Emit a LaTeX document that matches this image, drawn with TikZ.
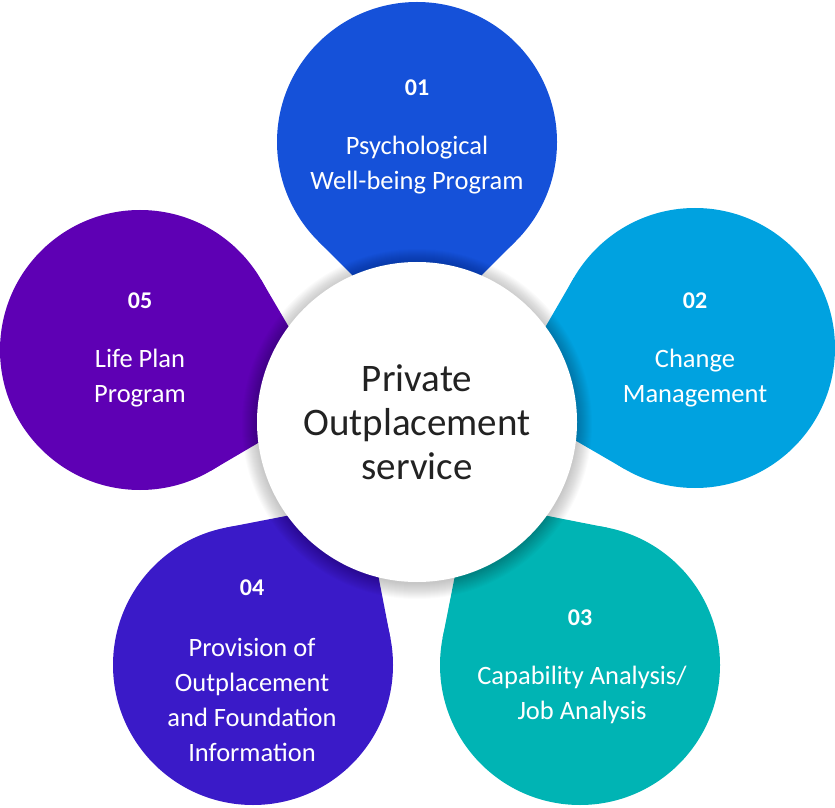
\documentclass[tikz,border=0pt]{standalone}
\usepackage{fontspec}
\setmainfont{Carlito}
\usetikzlibrary{calc}
\definecolor{c1}{HTML}{1551D9}
\definecolor{c2}{HTML}{00A2E0}
\definecolor{c3}{HTML}{00B4B4}
\definecolor{c4}{HTML}{3A1AC8}
\definecolor{c5}{HTML}{5E00B4}
\definecolor{ctext}{HTML}{222222}
\begin{document}
\begin{tikzpicture}[x=1pt,y=1pt,
  numtext/.style={text=white, font=\bfseries\fontsize{24}{28}\selectfont},
  petaltext/.style={text=white, align=center, font=\fontsize{26.5}{35}\selectfont},
  centertext/.style={text=ctext, align=center, font=\fontsize{39}{44}\selectfont},
  hub/.style={circle, fill=white, minimum size=320pt, inner sep=0pt}]
\useasboundingbox (0,0) rectangle (835,807);
\coordinate (m) at (417,385);
\coordinate (p1) at (417,665);
\coordinate (p2) at (695,459);
\coordinate (p3) at (580,142);
\coordinate (p4) at (253,142);
\coordinate (p5) at (140,457);
\foreach \p/\c in {p1/c1,p2/c2,p3/c3,p4/c4,p5/c5} {
  \fill[\c] (\p) circle (140);
  \fill[\c] ($(\p)!198pt!(m)$) -- ($(\p)!140pt!45:(m)$) -- (\p) -- ($(\p)!140pt!-45:(m)$) -- cycle;
}
\foreach \i in {1,...,16} {
  \fill[black, opacity=0.016] ($(m)+(0,-2)$) circle ({159+\i});
}
\node[hub] (hubnode) at (m) {};
\node[centertext] (hubtext) at (m) {Private\\Outplacement\\service};
\node[numtext] (n1) at (417,719) {01};
\node[petaltext] (t1) at (417,642) {Psychological\\Well-being Program};
\node[numtext] (n2) at (695,506) {02};
\node[petaltext] (t2) at (695,429) {Change\\Management};
\node[numtext] (n3) at (580,189) {03};
\node[petaltext] (t3) at (582,112) {Capability Analysis/\\Job Analysis};
\node[numtext] (n4) at (252,219) {04};
\node[petaltext] (t4) at (252,107) {Provision of\\Outplacement\\and Foundation\\Information};
\node[numtext] (n5) at (140,506) {05};
\node[petaltext] (t5) at (140,429) {Life Plan\\Program};
\end{tikzpicture}
\end{document}
